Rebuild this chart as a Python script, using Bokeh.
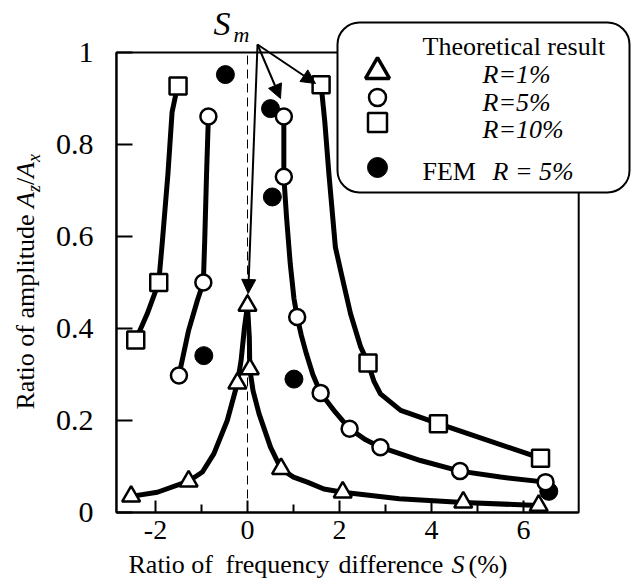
import math
from bokeh.plotting import figure
from bokeh.models import Range1d, FixedTicker, Arrow, NormalHead
from bokeh.core.properties import value
from bokeh.embed import file_html
from bokeh.resources import INLINE

# ---------------- data ----------------
# R = 1 % theoretical (triangles)
tri_x = [-2.53, -1.28, -0.22, 0.0, 0.05, 0.73, 2.07, 4.69, 6.33]
tri_y = [0.035, 0.068, 0.281, 0.45, 0.312, 0.095, 0.044, 0.022, 0.015]
r1_left_x = [-2.53, -1.96, -1.28, -0.98, -0.73, -0.44, -0.22, -0.14, -0.065, 0.0]
r1_left_y = [0.035, 0.044, 0.068, 0.088, 0.128, 0.20, 0.281, 0.33, 0.403, 0.45]
r1_right_x = [0.0, 0.04, 0.05, 0.12, 0.25, 0.50, 0.73, 1.00, 1.30, 1.66, 2.07, 3.30, 4.69, 6.33]
r1_right_y = [0.45, 0.38, 0.312, 0.265, 0.215, 0.142, 0.095, 0.077, 0.066, 0.051, 0.044, 0.030, 0.022, 0.015]

# R = 5 % theoretical (circles)
cir_x = [-1.49, -0.96, -0.85, 0.79, 0.79, 1.08, 1.59, 2.22, 2.89, 4.62, 6.48]
cir_y = [0.298, 0.50, 0.861, 0.861, 0.73, 0.425, 0.26, 0.182, 0.142, 0.09, 0.066]
r5_left_x = [-1.49, -1.28, -1.09, -0.96, -0.93, -0.89, -0.85]
r5_left_y = [0.298, 0.396, 0.461, 0.50, 0.591, 0.736, 0.861]
r5_right_x = [0.79, 0.79, 0.79, 0.85, 0.93, 1.01, 1.08, 1.17, 1.28, 1.42, 1.59, 1.91, 2.22, 2.57, 2.89, 3.76, 4.62, 5.50, 6.48]
r5_right_y = [0.861, 0.80, 0.73, 0.64, 0.54, 0.465, 0.425, 0.385, 0.345, 0.30, 0.26, 0.218, 0.182, 0.158, 0.142, 0.113, 0.09, 0.077, 0.066]

# R = 10 % theoretical (squares)
sq_x = [-2.43, -1.93, -1.51, 1.60, 2.62, 4.15, 6.37]
sq_y = [0.375, 0.50, 0.927, 0.93, 0.325, 0.193, 0.118]
r10_left_x = [-2.43, -2.18, -1.93, -1.85, -1.73, -1.64, -1.52]
r10_left_y = [0.375, 0.432, 0.50, 0.59, 0.736, 0.87, 0.927]
r10_right_x = [1.60, 1.68, 1.77, 1.91, 2.04, 2.24, 2.46, 2.62, 2.75, 2.89, 3.33, 4.15, 6.37]
r10_right_y = [0.93, 0.85, 0.736, 0.577, 0.519, 0.432, 0.36, 0.325, 0.285, 0.258, 0.222, 0.193, 0.118]

# FEM R = 5 % (filled circles)
fem_x = [-0.95, -0.48, 0.50, 0.54, 1.01, 6.55]
fem_y = [0.341, 0.952, 0.878, 0.686, 0.29, 0.046]

x_ticks = [-2, 0, 2, 4, 6]
x_tick_labels = ["-2", "0", "2", "4", "6"]
x_minor = [-1, 1, 3, 5]
y_ticks = [0, 0.2, 0.4, 0.6, 0.8, 1.0]
y_tick_labels = ["0", "0.2", "0.4", "0.6", "0.8", "1"]
x_lim = (-2.85, 7.2)
y_lim = (0.0, 1.0)

# ---------------- layout helpers (pixel -> data) ----------------
PX0, PXU = 247.0, 46.0      # x=0 pixel, pixels per unit
PY0, PYU = 512.0, 460.0     # y=0 pixel, pixels per unit
def X(px):
    return (px - PX0) / PXU
def Y(py):
    return (PY0 - py) / PYU
def YB(py, fs):
    # y position for a text whose alphabetic baseline should sit at pixel py
    return Y(py - 0.33 * fs)
def XB(px, fs):
    # x position for a rotated (90 deg) text whose baseline should sit at pixel px
    return X(px - 0.33 * fs)

FONT = value("Liberation Serif")

p = figure(width=632, height=580, output_backend="svg", toolbar_location=None,
           title_location=None,
           x_range=Range1d(X(0), X(632)), y_range=Range1d(Y(580), Y(0)),
           min_border=0)
p.min_border_left = p.min_border_right = p.min_border_top = p.min_border_bottom = 0
p.outline_line_color = None
p.grid.visible = False
p.background_fill_color = "white"
p.border_fill_color = "white"

xa = p.xaxis[0]
xa.fixed_location = y_lim[0]
xa.bounds = x_lim
xa.ticker = FixedTicker(ticks=x_ticks, minor_ticks=x_minor)
xa.major_label_overrides = dict(zip(x_ticks, x_tick_labels))
ya = p.yaxis[0]
ya.fixed_location = x_lim[0]
ya.bounds = y_lim
ya.ticker = FixedTicker(ticks=y_ticks)
ya.major_label_overrides = dict(zip(y_ticks, y_tick_labels))
for ax in (xa, ya):
    ax.axis_line_width = 2
    ax.axis_line_color = "black"
    ax.major_tick_out = 0
    ax.minor_tick_out = 0
    ax.major_tick_line_width = 2
    ax.minor_tick_line_width = 2
    ax.major_label_text_font = "'Liberation Serif', serif"
    ax.major_label_text_color = "black"
xa.major_label_text_font_size = "28px"
ya.major_label_text_font_size = "30px"
xa.major_tick_in = 12
xa.minor_tick_in = 8
ya.major_tick_in = 16
xa.major_label_standoff = 8
ya.major_label_standoff = 23
ya.minor_tick_line_color = None

# dashed line at S = 0
p.segment(x0=[0], y0=[y_lim[0]], x1=[0], y1=[y_lim[1]], line_color="black",
          line_width=1, line_dash="9 5")

# theoretical curves
for xs, ys in [(r1_left_x, r1_left_y), (r1_right_x, r1_right_y),
               (r5_left_x, r5_left_y), (r5_right_x, r5_right_y),
               (r10_left_x, r10_left_y), (r10_right_x, r10_right_y)]:
    p.line(xs, ys, line_color="black", line_width=5, line_join="round", line_cap="round")

# FEM points
p.scatter(fem_x, fem_y, marker="circle", size=18, fill_color="black", line_color="black")
# theory markers
p.scatter(tri_x, tri_y, marker="triangle", size=18, fill_color="white", line_color="black", line_width=2.5)
p.scatter(cir_x, cir_y, marker="circle", size=16, fill_color="white", line_color="black", line_width=2.5)
p.scatter(sq_x, sq_y, marker="square", size=17, fill_color="white", line_color="black", line_width=2.5)

# frame
p.quad(left=[x_lim[0]], right=[x_lim[1]], bottom=[y_lim[0]], top=[y_lim[1]],
       fill_color=None, line_color="black", line_width=2)

# legend box (rounded)
p.quad(left=[X(337)], right=[X(629)], bottom=[Y(192)], top=[Y(22)],
       fill_color="white", line_color="black", line_width=2, border_radius=22)
p.scatter([X(377)], [Y(71)], marker="triangle", size=24, fill_color="white", line_color="black", line_width=3.5)
p.scatter([X(377)], [Y(97)], marker="circle", size=17, fill_color="white", line_color="black", line_width=2.5)
p.scatter([X(377)], [Y(122)], marker="square", size=19, fill_color="white", line_color="black", line_width=2.5)
p.scatter([X(377)], [Y(167)], marker="circle", size=20, fill_color="black", line_color="black")

p.text(x=[X(422), X(422)], y=[YB(55, 26), YB(180, 26)], text=["Theoretical result", "FEM"],
       text_font=FONT, text_font_size="26px", text_baseline="alphabetic", text_align="left", text_color="black")
p.text(x=[X(482), X(482), X(482), X(492)], y=[YB(83, 26), YB(111, 26), YB(138, 26), YB(180, 26)],
       text=["R=1%", "R=5%", "R=10%", "R = 5%"],
       text_font=FONT, text_font_size="26px", text_font_style="italic",
       text_baseline="alphabetic", text_align="left", text_color="black")

# S_m label and arrows
p.text(x=[X(213)], y=[YB(34, 34)], text=["S"], text_font=FONT, text_font_size="34px",
       text_font_style="italic", text_baseline="alphabetic", text_align="left", text_color="black")
p.text(x=[X(233)], y=[YB(41, 22)], text=["m"], text_font=FONT, text_font_size="22px",
       text_font_style="italic", text_baseline="alphabetic", text_align="left", text_color="black")
for ex, ey in [(X(247.7), Y(293)), (X(280), Y(98)), (X(315), Y(83))]:
    p.add_layout(Arrow(end=NormalHead(size=14, fill_color="black", line_color="black", line_width=1),
                       x_start=X(257), y_start=Y(44), x_end=ex, y_end=ey,
                       line_color="black", line_width=2))

# axis titles
p.text(x=[X(128), X(225), X(338), X(468)], y=[YB(573, 26)] * 4,
       text=["Ratio of", "frequency", "difference", "(%)"],
       text_font=FONT, text_font_size="26px", text_baseline="alphabetic", text_align="left", text_color="black")
p.text(x=[X(451)], y=[YB(573, 26)], text=["S"], text_font=FONT, text_font_size="26px",
       text_font_style="italic", text_baseline="alphabetic", text_align="left", text_color="black")

ang = math.pi / 2
p.text(x=[XB(34, 26), XB(34, 26)], y=[Y(409), Y(184.6)], text=["Ratio of amplitude", "/"], angle=ang,
       text_font=FONT, text_font_size="26px", text_baseline="alphabetic", text_align="left", text_color="black")
p.text(x=[XB(34, 26), XB(34, 26)], y=[Y(207.5), Y(177.4)], text=["A", "A"], angle=ang,
       text_font=FONT, text_font_size="26px", text_font_style="italic",
       text_baseline="alphabetic", text_align="left", text_color="black")
p.text(x=[XB(39, 18), XB(39, 18)], y=[Y(191.6), Y(161.5)], text=["z", "x"], angle=ang,
       text_font=FONT, text_font_size="18px", text_font_style="italic",
       text_baseline="alphabetic", text_align="left", text_color="black")

open("out.html", "w").write(file_html(p, INLINE))
